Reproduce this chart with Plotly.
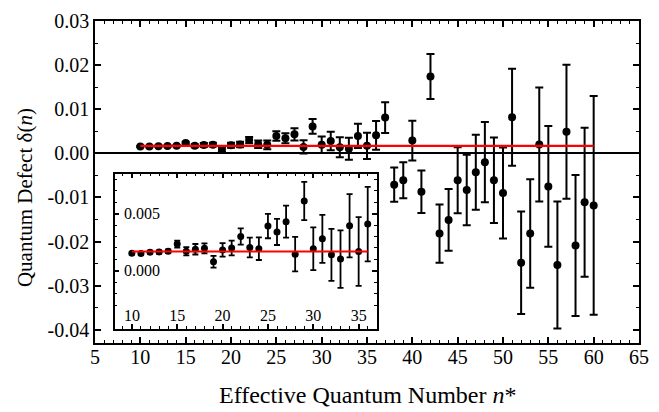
import plotly.graph_objects as go

# ---- data ----
n_star = list(range(10, 61))
delta = [0.00154, 0.00152, 0.00163, 0.00165, 0.00171, 0.00234, 0.00171, 0.00189, 0.00197, 0.00080,
         0.00183, 0.00200, 0.00300, 0.00204, 0.00194, 0.00392, 0.00340, 0.00430, 0.00146, 0.00611,
         0.00194, 0.00280, 0.00140, 0.00103, 0.00394, 0.00169, 0.00409, 0.0081, -0.0071, -0.0061,
         0.0029, -0.0087, 0.0174, -0.0182, -0.0151, -0.0061, -0.0083, -0.0043, -0.0020, -0.0061,
         -0.0090, 0.0082, -0.0248, -0.0182, 0.0020, -0.0075, -0.0253, 0.0049, -0.0209, -0.0111,
         -0.0118]
delta_err = [0.00012, 0.00012, 0.00013, 0.00014, 0.00016, 0.00030, 0.00036, 0.00046, 0.00043, 0.00051,
             0.00059, 0.00064, 0.00071, 0.00086, 0.00099, 0.00107, 0.00114, 0.00140, 0.00151, 0.00167,
             0.00187, 0.00210, 0.00227, 0.00251, 0.00276, 0.00300, 0.00326, 0.0035, 0.0039, 0.0041,
             0.0045, 0.0048, 0.0051, 0.0066, 0.0070, 0.0075, 0.0080, 0.0085, 0.0091, 0.0097,
             0.0103, 0.0110, 0.0116, 0.0123, 0.0129, 0.0137, 0.0144, 0.0152, 0.0160, 0.0169,
             0.0248]
fit_delta = 0.0017          # fitted constant quantum defect
inset_max_n = 36            # inset shows n* = 10 ... 36

main_y_ticks = [-0.04, -0.03, -0.02, -0.01, 0.0, 0.01, 0.02, 0.03]
main_y_labels = ["-0.04", "-0.03", "-0.02", "-0.01", "0.00", "0.01", "0.02", "0.03"]
inset_y_ticks = [0.0, 0.005]
inset_y_labels = ["0.000", "0.005"]

x_title = "Effective Quantum Number <i>n</i>*"
y_title = "Quantum Defect δ(<i>n</i>)"

# ---- figure ----
FONT = "Liberation Serif"
fig = go.Figure()

# main data
fig.add_trace(go.Scatter(
    x=n_star, y=delta, mode="markers",
    marker=dict(color="black", size=8),
    error_y=dict(type="data", array=delta_err, visible=True, color="black", thickness=2, width=4),
    xaxis="x", yaxis="y", showlegend=False))
fig.add_trace(go.Scatter(
    x=[n_star[0], n_star[-1]], y=[fit_delta, fit_delta], mode="lines",
    line=dict(color="#ff0000", width=2.2), xaxis="x", yaxis="y", showlegend=False))

# inset data
k = n_star.index(inset_max_n) + 1
fig.add_trace(go.Scatter(
    x=n_star[:k], y=delta[:k], mode="markers",
    marker=dict(color="black", size=7),
    error_y=dict(type="data", array=delta_err[:k], visible=True, color="black", thickness=1.8, width=3),
    xaxis="x2", yaxis="y2", showlegend=False))
fig.add_trace(go.Scatter(
    x=[n_star[0], inset_max_n], y=[fit_delta, fit_delta], mode="lines",
    line=dict(color="#ff0000", width=2), xaxis="x2", yaxis="y2", showlegend=False))

axis_common = dict(showline=True, linecolor="black", linewidth=1.5, mirror="allticks",
                   ticks="inside", tickcolor="black", tickwidth=1.5, showgrid=False,
                   zeroline=False)

# inset y tick labels (inside the inset frame)
annotations = [
    dict(text=lab, x=0, xref="x2 domain", xanchor="left", xshift=7,
         y=val, yref="y2", yanchor="middle", showarrow=False,
         font=dict(family=FONT, size=16, color="black"))
    for val, lab in zip(inset_y_ticks, inset_y_labels)
]
# axis titles
annotations.append(dict(text=x_title, x=0.5, xref="paper", xanchor="center",
                        y=0, yref="paper", yanchor="middle", yshift=-52, showarrow=False,
                        font=dict(family=FONT, size=24, color="black")))
annotations.append(dict(text=y_title, x=0, xref="paper", xanchor="center", xshift=-70,
                        y=0.45, yref="paper", yanchor="middle", textangle=-90, showarrow=False,
                        font=dict(family=FONT, size=21, color="black")))

fig.update_layout(
    width=659, height=412,
    margin=dict(l=95, r=10, t=16, b=69),
    paper_bgcolor="white", plot_bgcolor="white",
    font=dict(family=FONT, size=20, color="black"),
    annotations=annotations,
    xaxis=dict(**axis_common, range=[5, 65], domain=[0, 1], tick0=5, dtick=5, ticklen=6,
               minor=dict(ticks="inside", dtick=1, ticklen=3, tickwidth=1.2, tickcolor="black"),
               ticklabelstandoff=-5,
               tickfont=dict(size=20, color="black"), anchor="y"),
    yaxis=dict(**{**axis_common, "zeroline": True}, zerolinecolor="black", zerolinewidth=1.5,
               range=[-0.043, 0.03], domain=[0, 1],
               tickvals=main_y_ticks, ticktext=main_y_labels, ticklen=6,
               minor=dict(ticks="inside", dtick=0.005, tick0=0, ticklen=3, tickwidth=1.2, tickcolor="black"),
               tickfont=dict(size=20, color="black"), anchor="x"),
    xaxis2=dict(**axis_common, range=[8.1, 37.0], domain=[0.0361, 0.518], tick0=5, dtick=5,
                ticklen=5, ticklabelposition="inside",
                minor=dict(ticks="inside", dtick=1, ticklen=3, tickwidth=1.2, tickcolor="black"),
                tickfont=dict(size=16, color="black"), anchor="y2"),
    yaxis2=dict(**axis_common, range=[-0.0051, 0.0085], domain=[0.0428, 0.526],
                tickvals=inset_y_ticks, showticklabels=False, ticklen=5,
                minor=dict(ticks="inside", dtick=0.001, tick0=0, ticklen=3, tickwidth=1.2, tickcolor="black"),
                anchor="x2"),
)

fig.write_html("out.html")
